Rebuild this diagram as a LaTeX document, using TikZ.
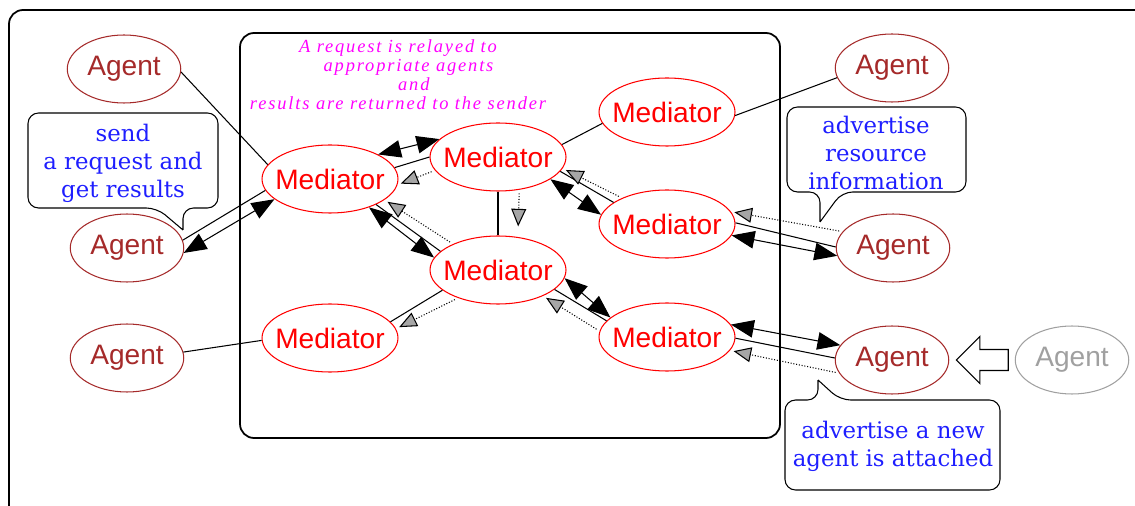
\documentclass[tikz,border=0pt]{standalone}
\usepackage{fontspec}
\setmainfont{Liberation Sans}
\newfontfamily\notefont[LetterSpace=10]{Liberation Serif}
\newfontfamily\bubblefont{DejaVu Serif}
\usetikzlibrary{positioning, arrows.meta, shapes.geometric, shapes.arrows, calc}
\definecolor{agentred}{RGB}{165,42,42}
\definecolor{bubbleblue}{RGB}{30,30,255}
\definecolor{notepink}{RGB}{255,0,255}
\definecolor{ghostgray}{RGB}{160,160,160}
\newcommand{\lbl}[1]{\makebox[0pt]{#1}}

\begin{document}
\begin{tikzpicture}[
		x=0.02cm, y=-0.02cm,
		>={Triangle[length=13pt,width=10pt]},
		line width=0.6pt,
		agent/.style={draw=agentred, ellipse, inner sep=0pt, minimum width=2.27cm, minimum height=1.36cm, text=agentred, font=\fontsize{16}{18}\selectfont},
		ghost/.style={agent, draw=ghostgray, text=ghostgray},
		mediator/.style={draw=red, ellipse, inner sep=0pt, minimum width=2.72cm, minimum height=1.36cm, text=red, font=\fontsize{16}{18}\selectfont},
		bubbletext/.style={align=center, text=bubbleblue, font=\bubblefont\fontsize{13}{16}\selectfont},
		notetext/.style={align=center, text=notepink, font=\notefont\itshape\fontsize{10.5}{10.8}\selectfont},
		advert/.style={-{Triangle[length=10pt,width=8.5pt,fill=gray!70]}, densely dotted, shorten <=2pt, shorten >=2pt},
		bubble/.style={draw, rounded corners=6pt},
		frame/.style={draw, line width=1pt, rounded corners=8pt},
		bigarrow/.style={draw, fill=white, single arrow, shape border rotate=180, inner sep=0pt, text width=0pt, text height=0.2cm, text depth=0.2cm, minimum height=1.04cm, single arrow head extend=0.26cm},
	]
	\clip (0,0) rectangle (1135,506);
	\draw[frame] (9,10) rectangle (1200,540);
	\draw[frame] (240,33) rectangle (780,438);

	\node[notetext] (relay) at (398,75) {A request is relayed to\\\hspace*{12pt}appropriate agents\\\hspace*{18pt}and\\results are returned to the sender};

	\node[agent] (a1) at (124,69) {\lbl{Agent}};
	\node[agent] (a2) at (127,248) {\lbl{Agent}};
	\node[agent] (a3) at (127,358) {\lbl{Agent}};
	\node[agent] (a4) at (892,68) {\lbl{Agent}};
	\node[agent] (a5) at (893,248) {\lbl{Agent}};
	\node[agent] (a6) at (892,360) {\lbl{Agent}};
	\node[ghost] (a7) at (1072,360) {\lbl{Agent}};
	\node[mediator] (m1) at (330,179) {\lbl{Mediator}};
	\node[mediator] (m2) at (498,157) {\lbl{Mediator}};
	\node[mediator] (m3) at (667,112) {\lbl{Mediator}};
	\node[mediator] (m4) at (667,224) {\lbl{Mediator}};
	\node[mediator] (m5) at (498,270) {\lbl{Mediator}};
	\node[mediator] (m6) at (330,338) {\lbl{Mediator}};
	\node[mediator] (m7) at (667,337) {\lbl{Mediator}};
	\node[bigarrow, anchor=tail] (join) at ([xshift=-3.4pt]a7.west) {};

	\draw (a1.-3) -- (m1.167);
	\draw (a2.8) -- (m1.190);
	\draw[<->] (a2.-5) -- (m1.200);
	\draw (a3.6) -- (m6.182);
	\draw (m1.10) -- (m2.180);
	\draw[<->] (m1.27) -- (m2.163);
	\draw[advert] (m2.192) -- (m1.-5);
	\draw (m1.-29) -- (m5.162);
	\draw[<->] (m1.-36) -- (m5.169);
	\draw[advert] (m5.150) -- (m1.-21);
	\draw (m2.south) -- (m5.north);
	\draw[advert, shorten >=6pt] (m2.-57) -- (m5.59);
	\draw (m2.11) -- (m3.190);
	\draw (m3.-3) -- (a4.190);
	\draw (m2.-13) -- (m4.158);
	\draw[<->] (m2.-23) -- (m4.172);
	\draw[advert] (m4.150) -- (m2.-10);
	\draw (m4.1) -- (a5.179);
	\draw[<->] (m4.-10) -- (a5.188);
	\draw[advert] (a5.162) -- (m4.11);
	\draw (m5.200) -- (m6.15);
	\draw[advert] (m5.215) -- (m6.8);
	\draw (m5.-19) -- (m7.165);
	\draw[<->] (m5.-7) -- (m7.161);
	\draw[advert] (m7.175) -- (m5.-30);
	\draw (m7.-1) -- (a6.178);
	\draw[<->] (m7.11) -- (a6.164);
	\draw[advert] (a6.194) -- (m7.-12);

	\draw[bubble] (183,230) -- (157,208) -- (28,208) -- (28,113) -- (218,113) -- (218,208) -- (183,208) -- (183,230);
	\node[bubbletext] (sendtxt) at (123,163) {send\\a request and\\get results};
	\draw[bubble] (820,222) -- (842,192) -- (966,192) -- (966,107) -- (787,107) -- (787,192) -- (820,192) -- (820,222);
	\node[bubbletext] (resourcetxt) at (876,153) {advertise\\resource\\information};
	\draw[bubble] (818,380) -- (840,400) -- (1000,400) -- (1000,490) -- (785,490) -- (785,400) -- (818,400) -- (818,380);
	\node[bubbletext] (newtxt) at (893,446) {advertise a new\\agent is attached};
\end{tikzpicture}
\end{document}
